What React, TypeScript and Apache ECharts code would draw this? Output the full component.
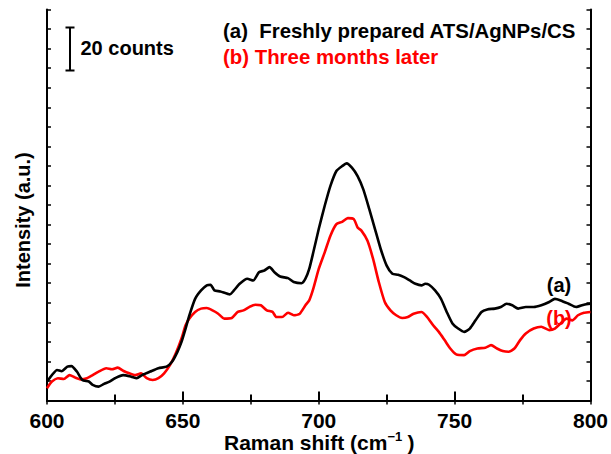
import React, { useEffect, useRef } from "react";
import * as echarts from "echarts";

const shiftA = [600, 601.8, 603.7, 605.4, 607.5, 609, 611, 613, 615.4, 616.8, 619, 621, 623, 625, 628, 631, 633, 635, 638, 641, 644, 646, 648, 649.5, 651, 652.4, 654.5, 656.7, 658.8, 660.2, 661.6, 663.8, 667.3, 668.8, 670.9, 673.7, 675.9, 678, 680, 681.9, 683.7, 685.8, 688.7, 690.8, 693.7, 695.1, 696.5, 698, 700, 702.2, 704.3, 706.5, 708.6, 710.3, 712.2, 714.3, 716.4, 718.6, 720.7, 722.8, 725, 727.1, 729.2, 731.4, 733.5, 735.6, 737.8, 739.2, 740.6, 742.8, 745, 747.1, 749.2, 751.3, 753.5, 755.6, 757.7, 759.9, 762, 764.8, 767, 769.1, 771.2, 773.4, 776.2, 779.1, 781.9, 784.8, 786.9, 789, 791.9, 794.7, 797.6, 800];
const intensityA = [0.97, 1.3, 1.56, 1.5, 1.73, 1.76, 1.48, 1.05, 0.97, 0.8, 0.71, 0.85, 0.97, 1.14, 1.3, 1.22, 1.14, 1.3, 1.48, 1.65, 1.73, 1.98, 2.49, 3.0, 3.68, 4.36, 5.2, 5.63, 5.89, 5.92, 5.63, 5.58, 5.43, 5.63, 5.97, 6.23, 6.14, 6.56, 6.65, 6.82, 6.56, 6.34, 6.26, 6.06, 6.0, 6.23, 6.73, 7.58, 8.77, 9.96, 10.98, 11.74, 11.99, 12.13, 11.91, 11.48, 10.8, 9.79, 8.77, 7.75, 6.9, 6.48, 6.43, 6.31, 6.14, 5.97, 5.89, 5.97, 5.92, 5.63, 5.2, 4.53, 3.94, 3.68, 3.51, 3.68, 4.1, 4.53, 4.66, 4.7, 4.78, 4.95, 4.87, 4.7, 4.78, 4.78, 4.87, 5.04, 5.2, 5.12, 4.95, 4.78, 4.9, 4.95];

const shiftB = [600, 601.8, 604, 606.2, 608.3, 610.4, 612.5, 614.7, 616.8, 619, 621.8, 623.9, 626, 628.2, 630.3, 632.5, 634.6, 636.7, 638.9, 641, 643.1, 645.3, 647.4, 649.5, 651, 652.4, 654.5, 656.7, 658.8, 660.9, 663, 665.2, 668, 670.2, 672.3, 674.4, 676.6, 678.7, 680.9, 683, 684.4, 686.5, 688.7, 690.8, 693, 695.1, 696.5, 698, 700, 702.2, 704.3, 706.5, 708.6, 710.7, 712.9, 714.3, 715.7, 717.9, 720, 722.1, 724.3, 726.4, 728.5, 730.7, 732.8, 734.9, 737.8, 739.9, 742.1, 744.2, 746.3, 748.4, 750.6, 753.5, 755.6, 758.4, 761.3, 763.4, 765.6, 767.7, 769.8, 772, 774.1, 776.2, 779.1, 781.9, 784.8, 786.9, 789, 791.2, 793.3, 795.4, 797.6, 800];
const intensityB = [0.63, 0.97, 1.14, 1.1, 1.3, 1.17, 1.08, 1.14, 1.3, 1.48, 1.65, 1.6, 1.68, 1.51, 1.39, 1.3, 1.39, 1.14, 1.05, 1.14, 1.39, 1.82, 2.41, 3.17, 3.85, 4.19, 4.53, 4.7, 4.73, 4.61, 4.44, 4.19, 4.22, 4.53, 4.61, 4.78, 4.9, 4.87, 4.61, 4.53, 4.27, 4.27, 4.49, 4.36, 4.44, 4.87, 5.12, 5.72, 6.73, 7.58, 8.43, 9.02, 9.14, 9.33, 9.28, 8.85, 8.69, 8.18, 7.24, 6.06, 5.04, 4.61, 4.36, 4.22, 4.27, 4.44, 4.53, 4.27, 3.85, 3.51, 3.09, 2.66, 2.36, 2.32, 2.53, 2.66, 2.7, 2.83, 2.66, 2.53, 2.49, 2.66, 3.09, 3.43, 3.68, 3.77, 3.6, 3.68, 3.94, 4.19, 4.1, 4.36, 4.49, 4.53];

const xTickLabels = ["600", "650", "700", "750", "800"];
const legendA = "(a)  Freshly prepared ATS/AgNPs/CS";
const legendB = "(b) Three months later";
const scaleLabel = "20 counts";
const xTitleMain = "Raman shift (cm";
const xTitleSup = "−1";
const xTitleEnd = ")";
const yTitle = "Intensity (a.u.)";

const FONT = 'Arial, "Liberation Sans", sans-serif';

export default function App() {
  const ref = useRef<HTMLDivElement>(null);
  useEffect(() => {
    if (!ref.current) return;
    const chart = echarts.init(ref.current, undefined, { renderer: "svg" });
    const dataA = shiftA.map((x, i) => [x, intensityA[i]]);
    const dataB = shiftB.map((x, i) => [x, intensityB[i]]);
    const axisLine = { show: true, lineStyle: { color: "#000", width: 2 } };
    chart.setOption({
      animation: false,
      backgroundColor: "#fff",
      grid: { left: 47, right: 15, top: 9.5, bottom: 53.5, containLabel: false },
      xAxis: [
        {
          type: "value",
          min: 600,
          max: 800,
          interval: 50,
          position: "bottom",
          axisLine,
          axisTick: { show: true, inside: true, length: 9, lineStyle: { color: "#000", width: 2 } },
          minorTick: { show: true, splitNumber: 2, length: 6, lineStyle: { color: "#000", width: 2 } },
          splitLine: { show: false },
          axisLabel: {
            show: true,
            margin: 9,
            color: "#000",
            fontSize: 21,
            fontWeight: "bold",
            fontFamily: FONT,
            formatter: (v: number) => {
              const s = String(v);
              return xTickLabels.includes(s) ? s : "";
            },
          },
        },
        {
          type: "value",
          min: 600,
          max: 800,
          interval: 25,
          position: "top",
          axisLine,
          axisTick: { show: true, inside: true, length: 4, lineStyle: { color: "#000", width: 1.5 } },
          splitLine: { show: false },
          axisLabel: { show: false },
        },
      ],
      yAxis: [
        {
          type: "value",
          min: 0,
          max: 20,
          interval: 1,
          position: "left",
          axisLine,
          axisTick: { show: true, inside: true, length: 4, lineStyle: { color: "#000", width: 1.5 } },
          splitLine: { show: false },
          axisLabel: { show: false },
        },
        {
          type: "value",
          min: 0,
          max: 20,
          interval: 1,
          position: "right",
          axisLine,
          axisTick: { show: true, inside: true, length: 4, lineStyle: { color: "#000", width: 1.5 } },
          splitLine: { show: false },
          axisLabel: { show: false },
        },
      ],
      series: [
        {
          name: "a",
          type: "line",
          data: dataA,
          showSymbol: false,
          smooth: 0.2,
          lineStyle: { color: "#000", width: 2.6 },
          z: 3,
        },
        {
          name: "b",
          type: "line",
          data: dataB,
          showSymbol: false,
          smooth: 0.2,
          lineStyle: { color: "#ff0000", width: 2.6 },
          z: 2,
        },
      ],
      graphic: [
        { type: "line", shape: { x1: 70, y1: 27.5, x2: 70, y2: 70.5 }, style: { stroke: "#000", lineWidth: 2 } },
        { type: "line", shape: { x1: 65.5, y1: 27.5, x2: 74.5, y2: 27.5 }, style: { stroke: "#000", lineWidth: 2 } },
        { type: "line", shape: { x1: 65.5, y1: 70.5, x2: 74.5, y2: 70.5 }, style: { stroke: "#000", lineWidth: 2 } },
        {
          type: "text",
          x: 80.5,
          y: 47.5,
          style: { text: scaleLabel, fill: "#000", font: `bold 20px ${FONT}`, textAlign: "left", textVerticalAlign: "middle" },
        },
        {
          type: "text",
          x: 223,
          y: 31,
          style: { text: legendA, fill: "#000", font: `bold 20.4px ${FONT}`, textAlign: "left", textVerticalAlign: "middle" },
        },
        {
          type: "text",
          x: 223,
          y: 57,
          style: { text: legendB, fill: "#ff0000", font: `bold 20.4px ${FONT}`, textAlign: "left", textVerticalAlign: "middle" },
        },
        {
          type: "text",
          x: 559,
          y: 285,
          style: { text: "(a)", fill: "#000", font: `bold 20px ${FONT}`, textAlign: "center", textVerticalAlign: "middle" },
        },
        {
          type: "text",
          x: 559,
          y: 318,
          style: { text: "(b)", fill: "#ff0000", font: `bold 20px ${FONT}`, textAlign: "center", textVerticalAlign: "middle" },
        },
        {
          type: "text",
          x: 23,
          y: 220,
          rotation: Math.PI / 2,
          style: { text: yTitle, fill: "#000", font: `bold 20px ${FONT}`, textAlign: "center", textVerticalAlign: "middle" },
        },
        {
          type: "text",
          x: 224,
          y: 442.5,
          style: { text: xTitleMain, fill: "#000", font: `bold 21px ${FONT}`, textAlign: "left", textVerticalAlign: "middle" },
        },
        {
          type: "text",
          x: 387.5,
          y: 436.5,
          style: { text: xTitleSup, fill: "#000", font: `bold 13px ${FONT}`, textAlign: "left", textVerticalAlign: "middle" },
        },
        {
          type: "text",
          x: 407.5,
          y: 442.5,
          style: { text: xTitleEnd, fill: "#000", font: `bold 21px ${FONT}`, textAlign: "left", textVerticalAlign: "middle" },
        },
      ],
    });
    return () => chart.dispose();
  }, []);
  return <div ref={ref} style={{ position: "fixed", left: 0, top: 0, width: 611, height: 454 }} />;
}
